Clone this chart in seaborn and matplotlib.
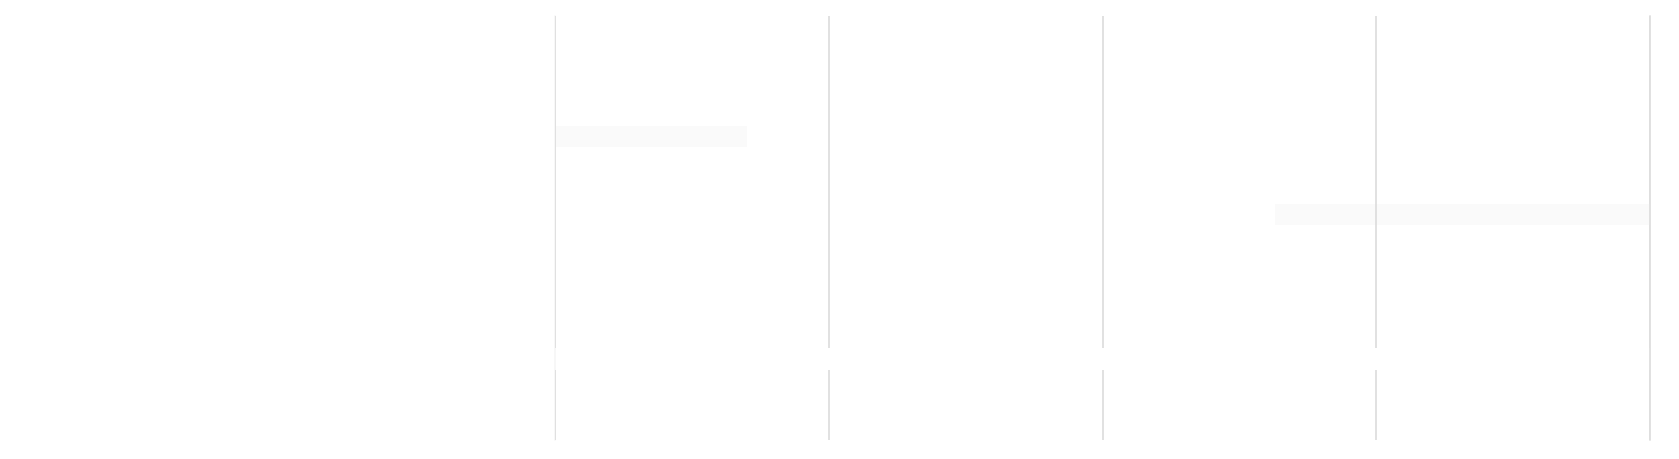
import matplotlib
matplotlib.use("Agg")
import matplotlib.pyplot as plt
import seaborn as sns
import pandas as pd

# Timeline data (rows, start / finish on the x scale)
rows = [1, 2]
starts = [0.0, 2.63]
finishes = [0.70, 4.0]
x_ticks = [0, 1, 2, 3, 4]

tasks = pd.DataFrame({"row": rows, "start": starts, "finish": finishes})
tasks["length"] = tasks["finish"] - tasks["start"]

sns.set_theme(style="white")
grid_color = "#dedede"
bar_color = "#fafafa"

fig = plt.figure(figsize=(16.79, 4.6), dpi=100)
fig.patch.set_facecolor("white")

left, width = 0.3306, 0.6521

# background axis only carrying the edge lines through the gap
ax_bg = fig.add_axes([left, 0.0413, width, 0.9217])
ax_bg.set_xlim(x_ticks[0], x_ticks[-1])
ax_bg.axvline(x_ticks[-1], color=grid_color, lw=1.3, clip_on=False)
ax_bg.axvline(x_ticks[0], color="#f7f7f7", lw=1.3, clip_on=False)
ax_bg.set_axis_off()

# main timeline panel
ax = fig.add_axes([left, 0.2413, width, 0.7217])
ax.barh(tasks["row"], tasks["length"], left=tasks["start"], height=0.27,
        color=bar_color, edgecolor="none", zorder=1)
ax.set_xlim(x_ticks[0], x_ticks[-1])
ax.set_ylim(3.70, -0.535)

# range overview panel
ax2 = fig.add_axes([left, 0.0413, width, 0.1522])
ax2.set_xlim(x_ticks[0], x_ticks[-1])
ax2.set_ylim(0, 1)

for a in (ax, ax2):
    a.set_facecolor("none")
    a.set_xticks(x_ticks)
    a.set_yticks([])
    a.grid(axis="x", color=grid_color, lw=1.3, zorder=2)
    a.set_axisbelow(False)
    a.tick_params(axis="x", length=0, labelbottom=False)
    sns.despine(ax=a, left=True, bottom=True)

plt.savefig("out.png", dpi=100, facecolor="white")
